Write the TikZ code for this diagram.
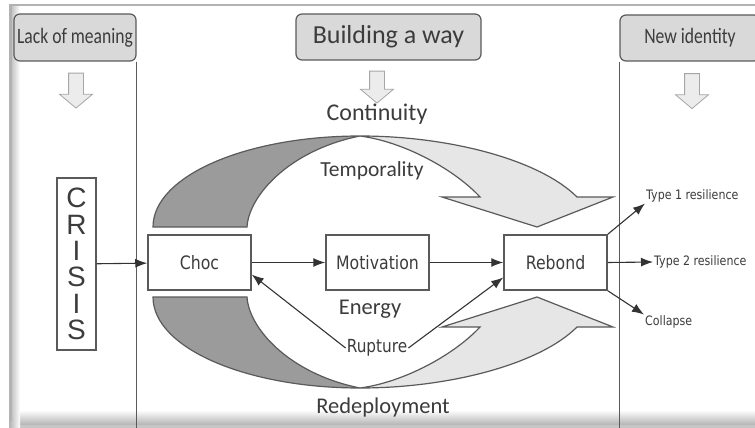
\documentclass[tikz,border=0pt]{standalone}
\usepackage{fontspec}
\setmainfont{Carlito}
\newfontfamily\narrowfont[FakeStretch=0.8]{Carlito}
\newfontfamily\boxfont[FakeStretch=0.85]{DejaVu Sans}
\newfontfamily\crisisfont{Liberation Sans}
\usetikzlibrary{arrows.meta,shapes.arrows}
\definecolor{linegray}{HTML}{5A5A5A}
\definecolor{headgray}{HTML}{D9D9D9}
\definecolor{darkband}{HTML}{9B9B9B}
\definecolor{lightband}{HTML}{E6E6E6}
\definecolor{txtgray}{HTML}{3C3C3C}
\tikzset{
  head/.style = {draw=linegray, fill=headgray, rounded corners=6pt, line width=1.2pt, text=txtgray, inner sep=0pt},
  stage/.style = {draw=linegray, fill=white, line width=1.5pt, minimum width=103pt, minimum height=55pt,
                  text=txtgray, font=\boxfont\fontsize{18.5}{20}\selectfont},
  flow/.style = {draw=black!80, line width=1.1pt, -{Latex[length=12pt,width=9pt]}},
  outcome/.style = {anchor=west, inner sep=1pt, text=txtgray, font=\boxfont\fontsize{13}{15}\selectfont},
  theme/.style = {inner sep=1pt, text=txtgray},
  downarrow/.style = {single arrow, rotate=-90, draw=gray!70, fill=gray!15, line width=0.8pt, inner sep=7pt,
                      single arrow head extend=9pt, single arrow tip angle=100, minimum height=35pt},
  band/.style = {draw=linegray, line width=1.2pt}
}
\newcommand\tophornpath{(153,227) .. controls (153,176) and (246,136) .. (360,136)
  .. controls (290,150) and (249,195) .. (247,227) -- cycle}
\newcommand\topheadpath{(360,136) .. controls (450,136) and (540,160) .. (577,197) -- (613,197)
  -- (537,227) -- (442,197) -- (480,197) .. controls (455,170) and (405,142) .. (360,136) -- cycle}

\begin{document}
\begin{tikzpicture}[x=1pt, y=-1pt]
\clip (0,0) rectangle (755,428);
\fill[white] (0,0) rectangle (755,428);
\shade[top color=white, bottom color=gray!60] (11,410) rectangle (755,425);
\fill[gray!45] (11,425) rectangle (755,428);
\shade[left color=gray!60, right color=white] (9,5) rectangle (20,428);
\draw[gray!60, line width=1.5pt] (755,5) -- (11,5) -- (11,421);

% column headers
\node[head, minimum width=122pt, minimum height=47pt, font=\narrowfont\fontsize{22}{24}\selectfont] (lack) at (75,37.5) {Lack of meaning};
\node[head, minimum width=185pt, minimum height=46pt, font=\fontsize{26}{28}\selectfont] (way) at (388.5,37) {Building a way};
\node[head, minimum width=140pt, minimum height=46pt, font=\narrowfont\fontsize{22}{24}\selectfont] (new) at (690,38) {New identity};
\draw[linegray, line width=1.2pt] (lack.south east) -- (lack.south east |- 0,428);
\draw[linegray, line width=1.2pt] (new.south west) -- (new.south west |- 0,428);

\node[downarrow] (arrlack) at (76,87.5) {};
\node[downarrow, minimum height=32pt] (arrway) at (377,84) {};
\node[downarrow] (arrnew) at (692,88) {};

% twisted bands above and below the stages
\filldraw[band, fill=darkband] \tophornpath;
\filldraw[band, fill=lightband] \topheadpath;
\begin{scope}[shift={(0,524)}, yscale=-1]
  \filldraw[band, fill=darkband] \tophornpath;
  \filldraw[band, fill=lightband] \topheadpath;
\end{scope}

\node[draw=linegray, line width=1.5pt, minimum width=39pt, minimum height=172pt, inner sep=0pt, align=center,
      text=txtgray, font=\crisisfont\fontsize{28}{26.4}\selectfont] (crisis) at (76.5,264) {C\\R\\I\\S\\I\\S};

\node[stage] (choc) at (199.5,262.5) {Choc};
\node[stage] (motiv) at (377.5,262.5) {Motivation};
\node[stage] (rebond) at (555.5,262.5) {Rebond};

\node[theme, font=\fontsize{24}{26}\selectfont] (cont) at (377,114) {Continuity};
\node[theme, font=\fontsize{21.5}{24}\selectfont] (temp) at (372,171) {Temporality};
\node[theme, font=\fontsize{22.5}{24}\selectfont] (energy) at (370,309) {Energy};
\node[theme, font=\fontsize{22.5}{24}\selectfont] (redep) at (383,407) {Redeployment};
\node[theme, font=\boxfont\fontsize{18}{20}\selectfont] (rupt) at (377,348) {Rupture};

\node[outcome] (type1) at (645,196) {Type 1 resilience};
\node[outcome] (type2) at (653,262) {Type 2 resilience};
\node[outcome] (coll) at (644,322) {Collapse};

\draw[flow] (crisis) -- (choc);
\draw[flow] (choc) -- (motiv);
\draw[flow] (motiv) -- (rebond);
\draw[flow] (rupt.west) -- (choc.-13);
\draw[flow] (rupt.east) -- (rebond.196);
\draw[flow] (rebond.north east) -- (type1.south west);
\draw[flow] (rebond.east) -- (type2.west);
\draw[flow] (rebond.south east) -- (coll.north west);
\end{tikzpicture}
\end{document}
